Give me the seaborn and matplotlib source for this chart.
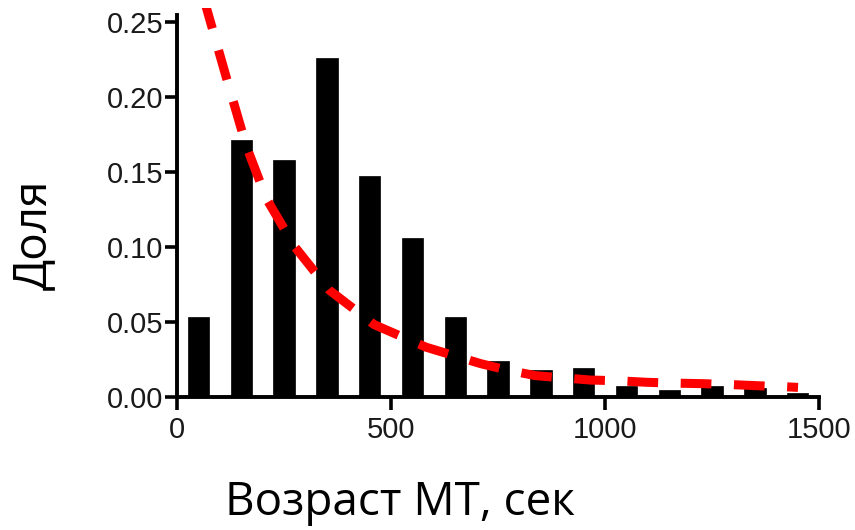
import matplotlib
matplotlib.use("Agg")
import numpy as np
import pandas as pd
import matplotlib.pyplot as plt
import seaborn as sns

# histogram of MT ages (bin centres, fraction in each bin)
bin_centers = [50, 150, 250, 350, 450, 550, 650, 750, 850, 950, 1050, 1150, 1250, 1350, 1450]
fractions = [0.053, 0.171, 0.158, 0.226, 0.147, 0.106, 0.053, 0.024, 0.018, 0.019,
             0.007, 0.0043, 0.007, 0.0056, 0.0025]

# red dashed fit curve
fit_x = [58, 69, 115, 162, 209, 275, 356, 461, 582, 640, 710, 768, 838, 896,
         966, 1024, 1098, 1156, 1226, 1284, 1358, 1416, 1451]
fit_y = [0.270, 0.259, 0.213, 0.167, 0.132, 0.100, 0.071, 0.048, 0.033, 0.028,
         0.022, 0.018, 0.014, 0.0127, 0.0111, 0.0107, 0.0096, 0.0091, 0.0087,
         0.0082, 0.0073, 0.0067, 0.0062]

x_ticks = [0, 500, 1000, 1500]
y_ticks = [0.00, 0.05, 0.10, 0.15, 0.20, 0.25]

sns.set_theme(style="ticks")
plt.rcParams["font.family"] = ["Liberation Sans", "DejaVu Sans"]

hist = pd.DataFrame({"age": bin_centers, "frac": fractions})
fit = pd.DataFrame({"age": fit_x, "frac": fit_y})

fig = plt.figure(figsize=(8.55, 5.30), dpi=100)
ax = fig.add_axes([177 / 855, 1 - 396.7 / 530, (819 - 177) / 855, 388.5 / 530])

sns.barplot(data=hist, x="age", y="frac", native_scale=True, width=0.5,
            color="black", edgecolor="black", linewidth=0.5, saturation=1, ax=ax)
sns.lineplot(data=fit, x="age", y="frac", color="#ff0000", lw=6.5, ax=ax)
ax.lines[-1].set_dashes([3.4, 2.5])
ax.lines[-1].set_dash_capstyle("butt")

ax.set_xlim(0, 1500)
ax.set_ylim(0, 0.259)
ax.set_xticks(x_ticks)
ax.set_xticklabels([str(t) for t in x_ticks])
ax.set_yticks(y_ticks)
ax.set_yticklabels(["%.2f" % t for t in y_ticks])
ax.set_xlabel("")
ax.set_ylabel("")

sns.despine(ax=ax)
ax.spines["left"].set_bounds(0, 0.2545)
for s in ["left", "bottom"]:
    ax.spines[s].set_linewidth(2.8)
    ax.spines[s].set_color("black")
ax.tick_params(axis="both", length=9, width=2.6, color="black",
               labelsize=21, labelcolor="#1a1a1a")
ax.tick_params(axis="y", pad=1)
ax.tick_params(axis="x", pad=5)

lab_font = ["Open Sans", "DejaVu Sans"]
fig.text(400 / 855, 1 - 503 / 530, "Возраст МТ, сек", ha="center", va="center",
         fontsize=33, family=lab_font, color="black")
fig.text(34 / 855, 1 - 235 / 530, "Доля", ha="center", va="center",
         rotation=90, fontsize=33, family=lab_font, color="black")

fig.savefig("out.png", dpi=100)
